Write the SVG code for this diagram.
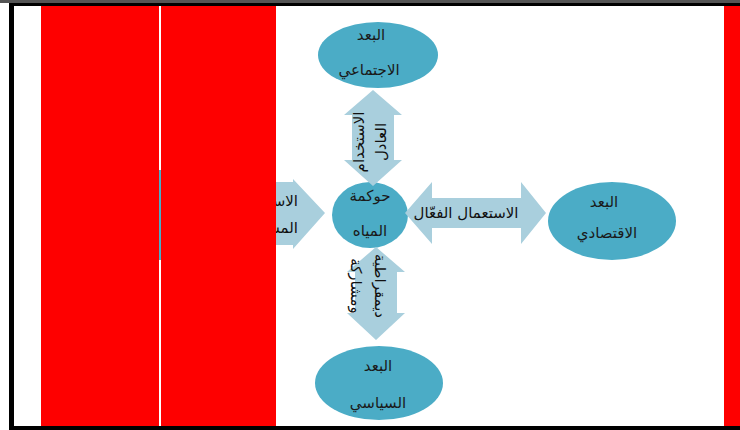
<svg xmlns="http://www.w3.org/2000/svg" width="740" height="430" viewBox="0 0 740 430">
<defs>
<style>
.node{fill:#4bacc6}
.arr{fill:#a9cfdd}
.t{font-family:"DejaVu Sans",sans-serif;font-size:15px;fill:#1a1a1a;text-anchor:middle;dominant-baseline:central}
.ta{font-family:"DejaVu Sans",sans-serif;font-size:15px;fill:#111;text-anchor:middle;dominant-baseline:central}
.red{fill:#fe0000}
</style>
</defs>
<rect x="0" y="0" width="740" height="430" fill="#ffffff"/>

<g id="node-hidden-left">
<ellipse class="node" cx="160" cy="215" rx="64" ry="45"/>
</g>

<g id="node-center">
<ellipse class="node" cx="370" cy="215" rx="38" ry="33"/>
<text class="t" x="370" y="196">حوكمة</text>
<text class="t" x="370" y="231">المياه</text>
</g>

<g id="connectors">
<polygon class="arr" points="373,90 402,115 394,115 394,160 402,160 373,186 344,160 352,160 352,115 344,115"/>
<text class="ta" transform="translate(370,142) rotate(-90)"><tspan x="0" y="-11">الاستخدام</tspan><tspan x="0" y="11">العادل</tspan></text>

<polygon class="arr" points="376,247 405,272 397,272 397,313 405,313 376,340 347,313 355,313 355,272 347,272"/>
<text class="ta" transform="translate(368,286) rotate(90)"><tspan x="0" y="-12">ديمقراطية</tspan><tspan x="0" y="12">ومشاركة</tspan></text>

<polygon class="arr" points="405,213 432,182 432,198 521,198 521,182 546,213 521,244 521,228 432,228 432,244"/>
<text class="ta" x="466" y="213">الاستعمال الفعّال</text>

<polygon class="arr" points="230,182 293,182 293,179 325,213 293,249 293,245 230,245"/>
<text class="ta" x="298" y="201" style="text-anchor:end">الاستخدام</text>
<text class="ta" x="298" y="228" style="text-anchor:end">المستدام</text>
</g>

<g id="node-social">
<ellipse class="node" cx="378" cy="55" rx="60" ry="33"/>
<text class="t" x="371" y="35">البعد</text>
<text class="t" x="369" y="70">الاجتماعي</text>
</g>

<g id="node-economic">
<ellipse class="node" cx="612" cy="221" rx="64" ry="39"/>
<text class="t" x="604" y="202">البعد</text>
<text class="t" x="607" y="233">الاقتصادي</text>
</g>

<g id="node-political">
<ellipse class="node" cx="379" cy="383" rx="64" ry="37"/>
<text class="t" x="378" y="366">البعد</text>
<text class="t" x="378" y="403">السياسي</text>
</g>

<rect class="red" x="41" y="5" width="118" height="423"/>
<rect class="red" x="161" y="5" width="115" height="423"/>
<rect class="red" x="724" y="5" width="16" height="423"/>

<rect x="0" y="0" width="740" height="3" fill="#555"/>
<rect x="9" y="3" width="731" height="3" fill="#000"/>
<rect x="9" y="3" width="5" height="427" fill="#000"/>
<rect x="9" y="426" width="731" height="4" fill="#000"/>
</svg>
